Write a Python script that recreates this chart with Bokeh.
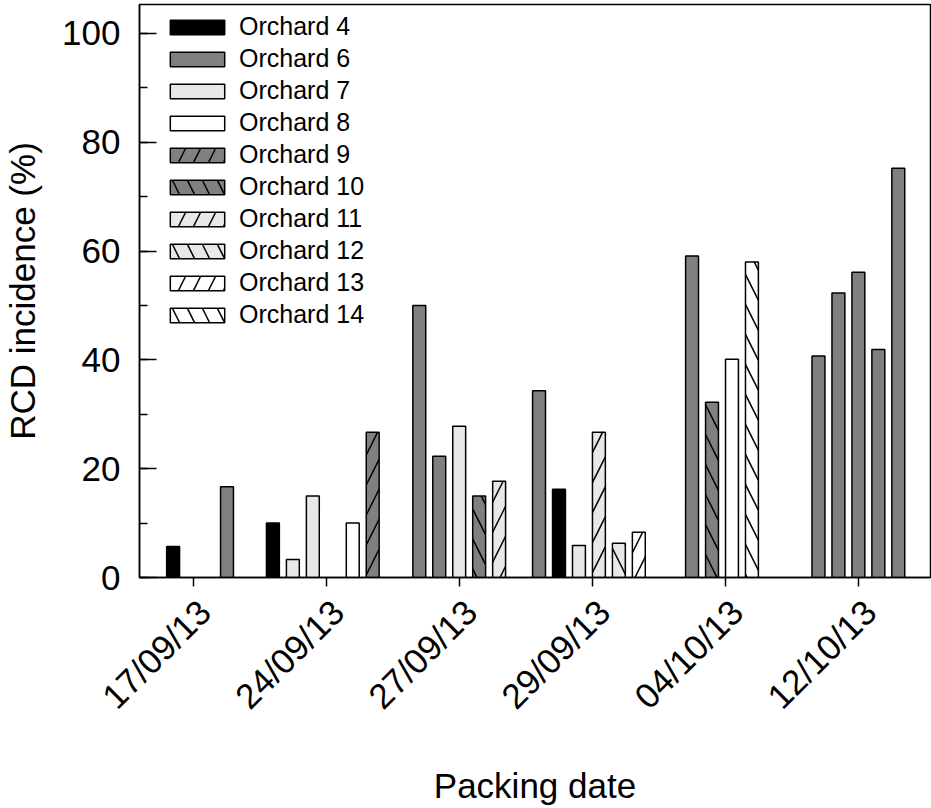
from math import pi
from bokeh.plotting import figure
from bokeh.models import (ColumnDataSource, Range1d, SingleIntervalTicker, FixedTicker,
                          Legend, LegendItem)
from bokeh.embed import file_html
from bokeh.resources import INLINE

# ---------------- data ----------------
dates = ["17/09/13", "24/09/13", "27/09/13", "29/09/13", "04/10/13", "12/10/13"]
orchards = ["Orchard 4", "Orchard 6", "Orchard 7", "Orchard 8", "Orchard 9",
            "Orchard 10", "Orchard 11", "Orchard 12", "Orchard 13", "Orchard 14"]

g1_orchard = ["Orchard 4", "Orchard 6"]
g1_value = [5.7, 16.7]
g2_orchard = ["Orchard 4", "Orchard 7", "Orchard 7", "Orchard 8", "Orchard 9"]
g2_value = [10.0, 3.3, 15.0, 10.0, 26.7]
g3_orchard = ["Orchard 6", "Orchard 6", "Orchard 7", "Orchard 10", "Orchard 11"]
g3_value = [50.0, 22.3, 27.8, 15.0, 17.7]
g4_orchard = ["Orchard 6", "Orchard 4", "Orchard 7", "Orchard 11", "Orchard 12", "Orchard 13"]
g4_value = [34.3, 16.2, 5.9, 26.7, 6.3, 8.3]
g5_orchard = ["Orchard 6", "Orchard 10", "Orchard 8", "Orchard 14"]
g5_value = [59.1, 32.2, 40.1, 58.0]
g6_orchard = ["Orchard 6", "Orchard 6", "Orchard 6", "Orchard 6", "Orchard 6"]
g6_value = [40.7, 52.3, 56.1, 41.9, 75.2]

group_orchards = [g1_orchard, g2_orchard, g3_orchard, g4_orchard, g5_orchard, g6_orchard]
group_values = [g1_value, g2_value, g3_value, g4_value, g5_value, g6_value]

# ---------------- layout (slot positions within each date group) ----------------
slot_index = [[0, 2.7], [0, 1, 2, 4, 5], [0, 1, 2, 3, 4], [0, 1, 2, 3, 4, 5], [0, 1, 2, 3], [0, 1, 2, 3, 4]]
slot_count = [3, 6, 5, 6, 4, 5]
SLOT = 0.15
BAR_W = 0.097

STYLE = {
    "Orchard 4": ("#000000", None),
    "Orchard 6": ("#808080", None),
    "Orchard 7": ("#e8e8e8", None),
    "Orchard 8": ("#ffffff", None),
    "Orchard 9": ("#808080", "/"),
    "Orchard 10": ("#808080", "\\"),
    "Orchard 11": ("#e8e8e8", "/"),
    "Orchard 12": ("#e8e8e8", "\\"),
    "Orchard 13": ("#ffffff", "/"),
    "Orchard 14": ("#ffffff", "\\"),
}

cols = {o: {"x": [], "top": []} for o in orchards}
for gi, (ors, vals) in enumerate(zip(group_orchards, group_values)):
    n = slot_count[gi]
    shift = (n - 1) / 2 + (1 / 6 if n % 2 == 0 else 0)
    for k, o, v in zip(slot_index[gi], ors, vals):
        cols[o]["x"].append(gi + (k - shift) * SLOT)
        cols[o]["top"].append(v)

FONT = "Liberation Sans"

p = figure(width=931, height=808,
           x_range=Range1d(-0.4026, 5.542), y_range=Range1d(0, 105.3),
           output_backend="svg", toolbar_location=None,
           min_border_left=137, min_border_right=1, min_border_top=4, min_border_bottom=231)
p.grid.visible = False
p.outline_line_color = "black"
p.outline_line_width = 1.5
p.background_fill_color = "white"
p.border_fill_color = "white"

renderers = {}
for o in orchards:
    fill, hatch = STYLE[o]
    kw = dict(hatch_pattern=hatch, hatch_color="black", hatch_weight=1.5, hatch_scale=30) if hatch else {}
    r = p.vbar(x="x", top="top", width=BAR_W, bottom=0, source=ColumnDataSource(cols[o]),
               fill_color=fill, line_color="black", line_width=1.5, **kw)
    renderers[o] = r

# x axis (a leading blank line pushes each rotated label down-right, so that the
# label hangs from its top-right corner like in the reference)
xa = p.xaxis[0]
xa.ticker = FixedTicker(ticks=list(range(len(dates))))
xa.major_label_overrides = {i: "\n" + d for i, d in enumerate(dates)}
xa.major_label_orientation = pi / 4
xa.major_label_text_font = FONT
xa.major_label_text_font_size = "35px"
xa.major_label_text_line_height = 0.83
xa.major_label_text_color = "black"
xa.major_label_standoff = 8
xa.major_tick_in = 0
xa.major_tick_out = 9
xa.minor_tick_line_color = None
xa.axis_line_width = 1.5
xa.major_tick_line_width = 1.5
xa.axis_label = "Packing date"
xa.axis_label_text_font = FONT
xa.axis_label_text_font_size = "35px"
xa.axis_label_text_font_style = "normal"
xa.axis_label_text_color = "black"
xa.axis_label_standoff = 22

# y axis
ya = p.yaxis[0]
ya.ticker = SingleIntervalTicker(interval=20, num_minor_ticks=2)
ya.major_label_text_font = FONT
ya.major_label_text_font_size = "35px"
ya.major_label_text_color = "black"
ya.major_tick_in = 17
ya.major_tick_out = 0
ya.minor_tick_in = 8
ya.minor_tick_out = 0
ya.axis_line_width = 1.5
ya.major_tick_line_width = 1.5
ya.minor_tick_line_width = 1.5
ya.major_label_standoff = 19
ya.axis_label = "RCD incidence (%)"
ya.axis_label_text_font = FONT
ya.axis_label_text_font_size = "35px"
ya.axis_label_text_font_style = "normal"
ya.axis_label_text_color = "black"
ya.axis_label_standoff = 17

legend = Legend(items=[LegendItem(label=o, renderers=[renderers[o]]) for o in orchards],
                location=(24, 248), orientation="vertical",
                glyph_width=68, glyph_height=18, label_standoff=8, spacing=3, padding=0, margin=0,
                label_text_font=FONT, label_text_font_size="25px", label_text_color="black",
                border_line_color=None, background_fill_alpha=0)
p.add_layout(legend)

open("out.html", "w").write(file_html(p, INLINE))
